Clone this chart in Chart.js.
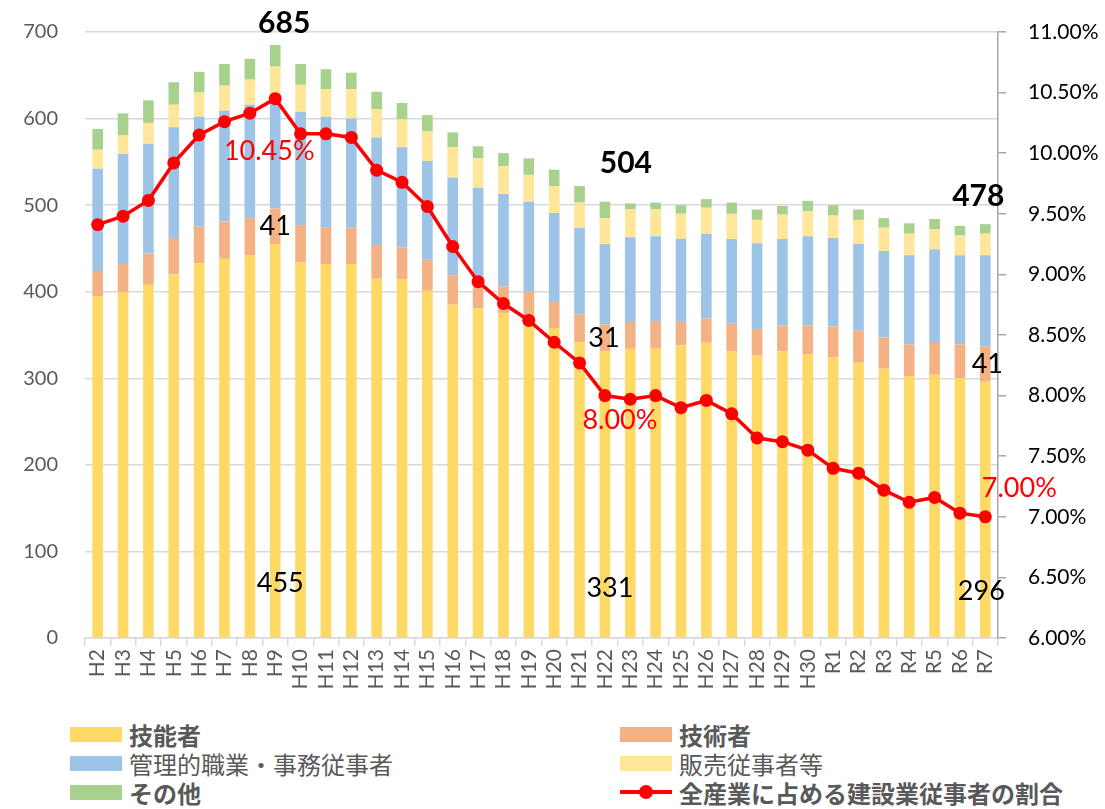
<!DOCTYPE html>
<html lang="ja">
<head>
<meta charset="utf-8">
<script src="https://cdn.jsdelivr.net/npm/chart.js@4.4.1/dist/chart.umd.min.js"></script>
<style>
  html, body { margin: 0; padding: 0; background: #fff; }
  #wrap { position: relative; width: 1105px; height: 809px; overflow: hidden; }
  #box { position: absolute; left: 0; top: 0; width: 1105px; height: 700px; }
  .lg { position: absolute; height: 29px; line-height: 29px; white-space: nowrap;
        font-family: "Noto Sans CJK JP", "Noto Sans", sans-serif; font-size: 24px; color: #595959; }
  .lg.b { font-weight: 700; }
  .sw { position: absolute; top: 7px; width: 52px; height: 15px; }
  .lg span.t { position: absolute; left: 59px; top: 0; }
  .ln { position: absolute; top: 12px; width: 52px; height: 4px; background: #ff0000; }
  .dot { position: absolute; top: 7px; left: 19px; width: 14px; height: 14px; border-radius: 50%; background: #ff0000; }
</style>
</head>
<body>
<div id="wrap">
  <div id="box"><canvas id="chart"></canvas></div>
  <div id="legend"></div>
</div>
<script>
// years (Heisei / Reiwa)
const years = ['H2','H3','H4','H5','H6','H7','H8','H9','H10','H11','H12','H13','H14','H15','H16','H17','H18','H19','H20','H21','H22','H23','H24','H25','H26','H27','H28','H29','H30','R1','R2','R3','R4','R5','R6','R7'];

// 万人
const skilled = [395,399,408,420,433,438,442,455,434,432,432,415,414,401,385,381,375,366,358,342,331,334,335,338,341,331,326,331,328,324,318,311,302,304,300,296];
const engineers = [29,33,36,42,42,43,43,41,43,42,42,39,37,36,34,29,31,34,30,32,31,31,31,27,28,32,31,30,33,36,37,36,37,38,39,41];
const clerical = [118,127,127,128,127,128,131,132,131,128,126,124,116,114,113,110,107,104,103,100,93,98,98,96,98,98,99,100,103,102,100,100,103,107,103,105];
const sales = [22,22,24,26,28,29,29,32,31,32,34,33,32,34,35,34,32,31,31,29,30,32,31,29,30,29,27,28,29,26,28,27,25,23,23,25];
const others = [24,25,26,26,24,25,24,25,24,23,19,20,19,19,17,14,15,19,19,19,19,7,8,10,10,13,12,10,12,12,12,11,12,12,11,11];

// 全産業に占める建設業従事者の割合 (%)
const share = [9.41,9.48,9.61,9.92,10.15,10.26,10.33,10.45,10.16,10.16,10.13,9.86,9.76,9.56,9.23,8.94,8.76,8.62,8.44,8.27,8.00,7.97,8.00,7.90,7.96,7.85,7.65,7.62,7.55,7.40,7.36,7.22,7.12,7.16,7.03,7.00];

const leftTicks = [0,100,200,300,400,500,600,700];
const rightTicks = [6,6.5,7,7.5,8,8.5,9,9.5,10,10.5,11];

// years that get value labels
const labelled = ['H9','H22','R7'];

const names = ['技能者','技術者','管理的職業・事務従事者','販売従事者等','その他','全産業に占める建設業従事者の割合'];
const colors = ['#FFD966','#F4B183','#9DC3E6','#FFE699','#A9D18E','#FF0000'];

const totals = years.map((_, i) => skilled[i] + engineers[i] + clerical[i] + sales[i] + others[i]);

const NUM_FONT = 'Lato, "Liberation Sans", sans-serif';

// label offsets (px) per labelled year
const labelPos = {
  H9:  { tot: [9, -22],  eng: [0, 0], base: [5, -55], pct: [-6, 53] },
  H22: { tot: [21, -38], eng: [-1, 0], base: [5, -50], pct: [15, 25] },
  R7:  { tot: [-7, -28], eng: [2, 0], base: [-4, -47], pct: [34, -29] }
};

const valueLabels = {
  id: 'valueLabels',
  afterDatasetsDraw(chart) {
    const { ctx } = chart;
    const x = chart.scales.x, y = chart.scales.y, y1 = chart.scales.y1;
    ctx.save();
    ctx.textAlign = 'center';
    ctx.textBaseline = 'middle';
    labelled.forEach(yr => {
      const i = years.indexOf(yr);
      const p = labelPos[yr];
      const cx = x.getPixelForValue(i);
      // total
      ctx.font = `700 30px ${NUM_FONT}`;
      ctx.fillStyle = '#000';
      ctx.fillText(String(totals[i]), cx + p.tot[0], y.getPixelForValue(totals[i]) + p.tot[1]);
      // engineers (middle of segment)
      ctx.font = `400 27px ${NUM_FONT}`;
      const mid = skilled[i] + engineers[i] / 2;
      ctx.fillText(String(engineers[i]), cx + p.eng[0], y.getPixelForValue(mid) + p.eng[1]);
      // skilled (inside base)
      ctx.fillText(String(skilled[i]), cx + p.base[0], y.getPixelForValue(0) + p.base[1]);
      // share
      ctx.fillStyle = '#FF0000';
      ctx.fillText(share[i].toFixed(2) + '%', cx + p.pct[0], y1.getPixelForValue(share[i]) + p.pct[1]);
    });
    ctx.restore();
  }
};

const barSets = [skilled, engineers, clerical, sales, others].map((d, k) => ({
  type: 'bar',
  label: names[k],
  data: d,
  backgroundColor: colors[k],
  borderWidth: 0,
  yAxisID: 'y',
  stack: 'jobs',
  barPercentage: 0.42,
  categoryPercentage: 1,
  order: 2
}));

new Chart(document.getElementById('chart'), {
  data: {
    labels: years,
    datasets: [
      ...barSets,
      {
        type: 'line',
        label: names[5],
        data: share,
        yAxisID: 'y1',
        borderColor: colors[5],
        backgroundColor: colors[5],
        borderWidth: 3.5,
        pointRadius: 6.5,
        pointHoverRadius: 6.5,
        pointBorderWidth: 0,
        tension: 0,
        order: 0
      }
    ]
  },
  options: {
    responsive: true,
    maintainAspectRatio: false,
    animation: false,
    layout: { padding: 0 },
    plugins: { legend: { display: false }, tooltip: { enabled: false } },
    scales: {
      x: {
        stacked: true,
        offset: true,
        grid: { display: true, offset: true, drawOnChartArea: false, color: '#D9D9D9', lineWidth: 1.5, tickLength: 8 },
        border: { display: true, color: '#D9D9D9', width: 1.5 },
        ticks: {
          autoSkip: false, minRotation: 90, maxRotation: 90, padding: 3,
          color: '#595959', font: { family: NUM_FONT, size: 21 }
        },
        afterFit: s => { s.height = 62; }
      },
      y: {
        stacked: true,
        position: 'left',
        min: 0, max: 700,
        afterBuildTicks: s => { s.ticks = leftTicks.map(v => ({ value: v })); },
        grid: { color: '#D9D9D9', lineWidth: 1.5, drawTicks: false },
        border: { display: false },
        ticks: { padding: 27, color: '#595959', font: { family: NUM_FONT, size: 20 } },
        afterFit: s => { s.width = 85; s.paddingTop = 32; s.paddingBottom = 0; }
      },
      y1: {
        position: 'right',
        min: 6, max: 11,
        afterBuildTicks: s => { s.ticks = rightTicks.map(v => ({ value: v })); },
        grid: { drawOnChartArea: false, color: '#A6A6A6', lineWidth: 1.5, tickLength: 8 },
        border: { display: true, color: '#A6A6A6', width: 1.5 },
        ticks: {
          padding: 22, color: '#000', font: { family: NUM_FONT, size: 21 },
          callback: v => Number(v).toFixed(2) + '%'
        },
        afterFit: s => { s.width = 107; s.paddingTop = 32; s.paddingBottom = 0; }
      }
    }
  },
  plugins: [valueLabels]
});

// legend (2 columns, Excel style)
const legendItems = [
  { k: 0, left: 70,  top: 720, bold: true },
  { k: 1, left: 620, top: 720, bold: true },
  { k: 2, left: 70,  top: 749, bold: false },
  { k: 3, left: 620, top: 749, bold: false },
  { k: 4, left: 70,  top: 778, bold: true },
  { k: 5, left: 620, top: 778, bold: true, line: true }
];
document.getElementById('legend').innerHTML = legendItems.map(it => `
  <div class="lg${it.bold ? ' b' : ''}" style="left:${it.left}px;top:${it.top}px">
    ${it.line
      ? '<div class="ln"></div><div class="dot"></div>'
      : `<div class="sw" style="background:${colors[it.k]}"></div>`}
    <span class="t">${names[it.k]}</span>
  </div>`).join('');
</script>
</body>
</html>
